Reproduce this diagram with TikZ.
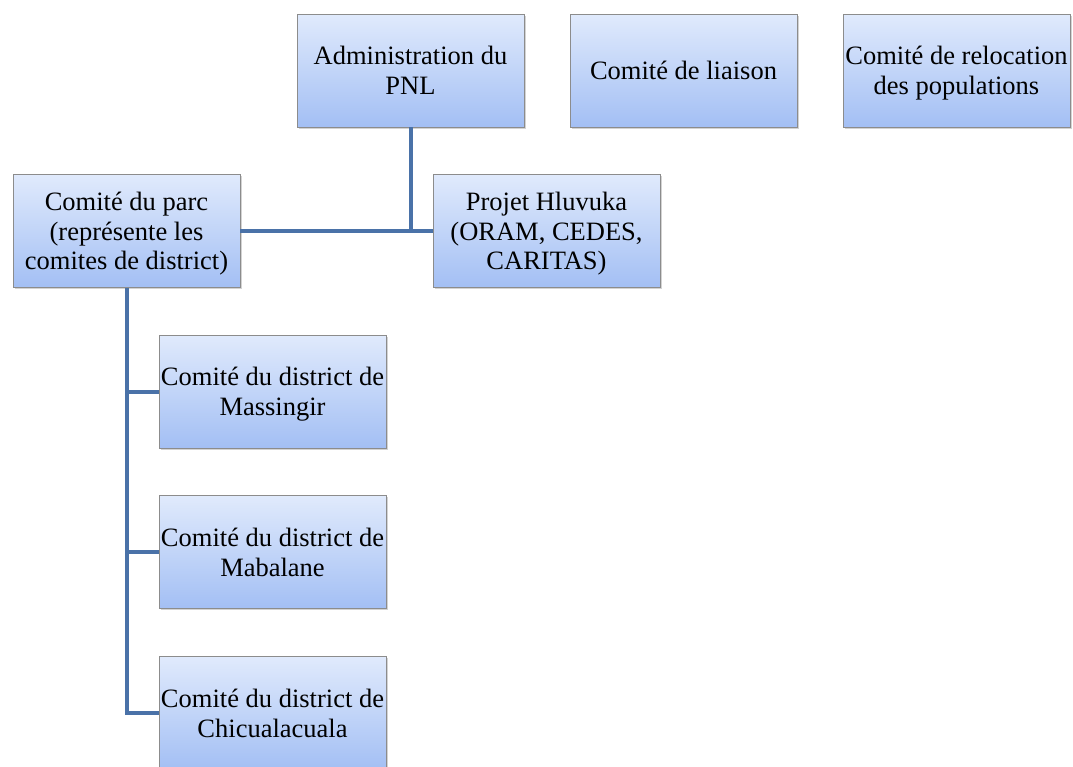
\documentclass[tikz,border=0pt]{standalone}
\usepackage{fontspec}
\setmainfont{Liberation Serif}
\usetikzlibrary{positioning}
\usetikzlibrary{shadows}

\definecolor{boxtop}{HTML}{E0EAFC}
\definecolor{boxbottom}{HTML}{A3BFF4}
\definecolor{boxline}{HTML}{8C8C8C}
\definecolor{lienbleu}{HTML}{4A72A8}

\tikzset{
  orgbox/.style={draw=boxline, line width=0.8pt, top color=boxtop, bottom color=boxbottom,
    minimum width=227pt, minimum height=113pt, inner sep=0pt, align=center,
    font=\fontsize{26.5}{29.5}\selectfont, text depth=0pt,
    drop shadow={opacity=0.35, shadow xshift=1.5pt, shadow yshift=-1.5pt}},
  lien/.style={draw=lienbleu, line width=4pt}
}

\begin{document}
\begin{tikzpicture}[x=1pt,y=-1pt]
  % Fix the page to the size of the reference
  \useasboundingbox (0,0) rectangle (1073,766);

  % Top row
  \node[orgbox] (admin) at (410.5,70.5) {Administration du\\PNL};
  \node[orgbox] (liaison) at (683.5,70.5) {Comité de liaison};
  \node[orgbox] (relocation) at (956.5,70.5) {Comité de relocation\\des populations};

  % Second row
  \node[orgbox] (parc) at (126.5,231) {Comité du parc\\(représente les\\comites de district)};
  \node[orgbox] (hluvuka) at (546.5,231) {Projet Hluvuka\\(ORAM, CEDES,\\CARITAS)};

  % District committees
  \node[orgbox] (massingir) at (272.5,391.5) {Comité du district de\\Massingir};
  \node[orgbox, below=47pt of massingir] (mabalane) {Comité du district de\\Mabalane};
  \node[orgbox, below=47pt of mabalane] (chicua) {Comité du district de\\Chicualacuala};

  % Connectors
  \draw[lien] (parc.east) -- (hluvuka.west);
  \draw[lien] (admin.south) -- (admin.south |- parc.east);
  \draw[lien] (parc.south) |- (chicua.west);
  \draw[lien] (parc.south |- massingir.west) -- (massingir.west);
  \draw[lien] (parc.south |- mabalane.west) -- (mabalane.west);
\end{tikzpicture}
\end{document}
